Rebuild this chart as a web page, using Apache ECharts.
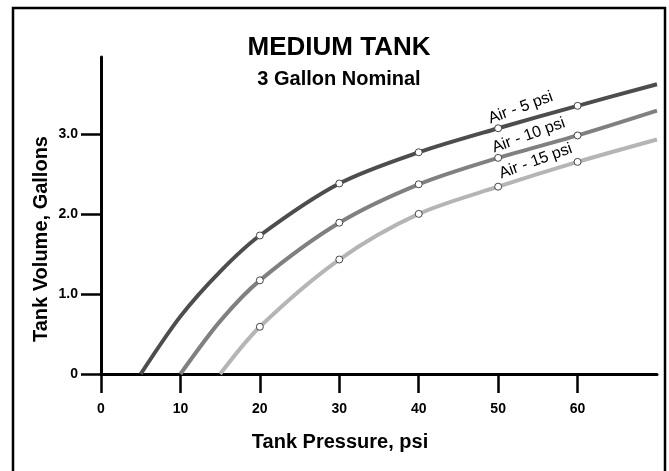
<!DOCTYPE html>
<html>
<head>
<meta charset="utf-8">
<script src="https://cdn.jsdelivr.net/npm/echarts@6/dist/echarts.min.js"></script>
<style>
  html, body { margin: 0; padding: 0; background: #fff; }
  #chart { width: 669px; height: 471px; }
</style>
</head>
<body>
<div id="chart"></div>
<script>
const xTicks = [0, 10, 20, 30, 40, 50, 60]
const yTicks = [0, 1, 2, 3]
const markedPressures = [20, 30, 40, 50, 60]

const curveNames = ['Air - 5 psi', 'Air - 10 psi', 'Air - 15 psi']
const air5Pressure = [5, 10, 15, 20, 30, 40, 50, 60, 70]
const air5Volume = [0, 0.72, 1.28, 1.73, 2.38, 2.77, 3.07, 3.35, 3.62]
const air10Pressure = [10, 15, 20, 30, 40, 50, 60, 70]
const air10Volume = [0, 0.66, 1.17, 1.89, 2.37, 2.70, 2.98, 3.29]
const air15Pressure = [15, 20, 30, 40, 50, 60, 70]
const air15Volume = [0, 0.59, 1.43, 2.00, 2.34, 2.65, 2.93]

const lineColors = ['#4d4d4d', '#808080', '#b5b5b5']
// label offsets from the 50 psi point, in px
const labelOffsets = [[26.5, -16.5], [34.5, -18.5], [41.5, -21.5]]

const FONT = '"Liberation Sans", Arial, sans-serif'

function buildSeries(idx, pressures, volumes) {
  const data = pressures.map((p, i) => {
    const item = { value: [p, volumes[i]] }
    if (!markedPressures.includes(p)) item.symbol = 'none'
    if (p === 50) {
      item.label = {
        show: true,
        formatter: curveNames[idx],
        position: labelOffsets[idx],
        align: 'center',
        verticalAlign: 'middle',
        rotate: 20,
        color: '#000',
        fontFamily: FONT,
        fontSize: 16,
      }
    }
    return item
  })
  return {
    name: curveNames[idx],
    type: 'line',
    data,
    smooth: 0.3,
    symbol: 'circle',
    symbolSize: 7,
    lineStyle: { color: lineColors[idx], width: 4 },
    itemStyle: { color: '#fff', borderColor: '#444', borderWidth: 1 },
    label: { show: false },
    z: 3,
  }
}

const chart = echarts.init(document.getElementById('chart'))
chart.setOption({
  animation: false,
  backgroundColor: '#fff',
  grid: { left: 101, right: 12, top: 57, bottom: 97 },
  xAxis: {
    type: 'value',
    min: 0,
    max: 70,
    interval: 10,
    axisLine: { show: true, onZero: false, lineStyle: { color: '#000', width: 3 } },
    axisTick: { show: true, customValues: xTicks, length: 19, lineStyle: { color: '#000', width: 2.5 } },
    axisLabel: { customValues: xTicks, margin: 28, color: '#000', fontFamily: FONT, fontWeight: 'bold', fontSize: 14 },
    splitLine: { show: false },
  },
  yAxis: {
    type: 'value',
    min: 0,
    max: 3.96,
    interval: 1,
    axisLine: { show: true, onZero: false, lineStyle: { color: '#000', width: 3 } },
    axisTick: { show: true, customValues: yTicks, length: 20, lineStyle: { color: '#000', width: 2.5 } },
    axisLabel: {
      customValues: yTicks,
      margin: 23,
      color: '#000',
      fontFamily: FONT,
      fontWeight: 'bold',
      fontSize: 14,
      formatter: v => (v === 0 ? '0' : v.toFixed(1)),
    },
    splitLine: { show: false },
  },
  series: [
    buildSeries(0, air5Pressure, air5Volume),
    buildSeries(1, air10Pressure, air10Volume),
    buildSeries(2, air15Pressure, air15Volume),
  ],
  graphic: [
    {
      type: 'rect',
      shape: { x: 13, y: 8, width: 652, height: 480 },
      style: { fill: 'none', stroke: '#000', lineWidth: 2.5 },
      silent: true,
    },
    {
      type: 'text',
      x: 339, y: 48,
      style: { text: 'MEDIUM TANK', font: 'bold 26px ' + FONT, fill: '#000', textAlign: 'center', textVerticalAlign: 'middle' },
    },
    {
      type: 'text',
      x: 339, y: 79,
      style: { text: '3 Gallon Nominal', font: 'bold 20px ' + FONT, fill: '#000', textAlign: 'center', textVerticalAlign: 'middle' },
    },
    {
      type: 'text',
      x: 340, y: 442,
      style: { text: 'Tank Pressure, psi', font: 'bold 20px ' + FONT, fill: '#000', textAlign: 'center', textVerticalAlign: 'middle' },
    },
    {
      type: 'text',
      x: 41, y: 239,
      rotation: Math.PI / 2,
      style: { text: 'Tank Volume, Gallons', font: 'bold 20px ' + FONT, fill: '#000', textAlign: 'center', textVerticalAlign: 'middle' },
    },
  ],
})
</script>
</body>
</html>
